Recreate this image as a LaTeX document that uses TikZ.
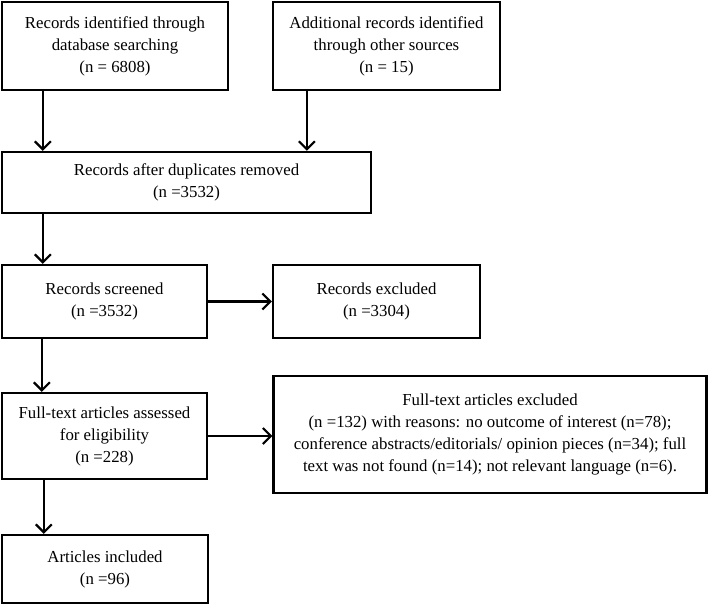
\documentclass[tikz,border=0pt]{standalone}
\usepackage{fontspec}
\setmainfont{Liberation Serif}
\usetikzlibrary{arrows.meta}
\tikzset{
  box/.style={draw, line width=1.8pt, align=center, inner sep=0pt,
    font=\fontsize{12.6}{16.5}\selectfont},
  arr/.style={line width=1.6pt, -{Straight Barb[length=6pt,width=12pt,line width=1.6pt]}}
}
\begin{document}
\begin{tikzpicture}[x=0.75pt,y=-0.75pt]
  \useasboundingbox (0,0) rectangle (709,614);
  %% identification
  \node[box, minimum width=169.5pt, minimum height=66pt] (db) at (115,46)
    {Records identified through\\database searching\\(n = 6808)};
  \node[box, minimum width=170.25pt, minimum height=66pt] (other) at (386.5,46)
    {Additional records identified\\through other sources\\(n = 15)};
  \node[box, minimum width=276.75pt, minimum height=45.75pt] (dup) at (186.5,182.5)
    {Records after duplicates removed\\(n =3532)};
  %% screening
  \node[box, minimum width=153.75pt, minimum height=54.75pt] (screen) at (104.5,301.5)
    {Records screened\\(n =3532)};
  \node[box, minimum width=155.25pt, minimum height=54.75pt] (recexcl) at (376.5,301.5)
    {Records excluded\\(n =3304)};
  %% eligibility
  \node[box, minimum width=153.75pt, minimum height=64.5pt] (full) at (104.5,436)
    {Full-text articles assessed\\for eligibility\\(n =228)};
  \node[box, minimum width=324.75pt, minimum height=87.75pt] (fullexcl) at (490,434.5)
    {Full-text articles excluded\\(n =132) with reasons: no outcome of interest (n=78);\\conference abstracts/editorials/ opinion pieces (n=34); full\\text was not found (n=14); not relevant language (n=6).};
  %% included
  \node[box, minimum width=154.5pt, minimum height=51pt] (incl) at (105,569)
    {Articles included\\(n =96)};
  %%
  \draw[arr] ([xshift=31.5pt]db.south west) coordinate (s1) -- (s1 |- dup.north);
  \draw[arr] ([xshift=26.25pt]other.south west) coordinate (s2) -- (s2 |- dup.north);
  \draw[arr] ([xshift=31.5pt]dup.south west) coordinate (s3) -- (s3 |- screen.north);
  \draw[arr] (screen.east) -- (recexcl.west);
  \draw[arr] ([xshift=30.75pt]screen.south west) coordinate (s4) -- (s4 |- full.north);
  \draw[arr] (full.east) -- (full.east -| fullexcl.west);
  \draw[arr] ([xshift=32.25pt]full.south west) coordinate (s5) -- (s5 |- incl.north);
\end{tikzpicture}
\end{document}
